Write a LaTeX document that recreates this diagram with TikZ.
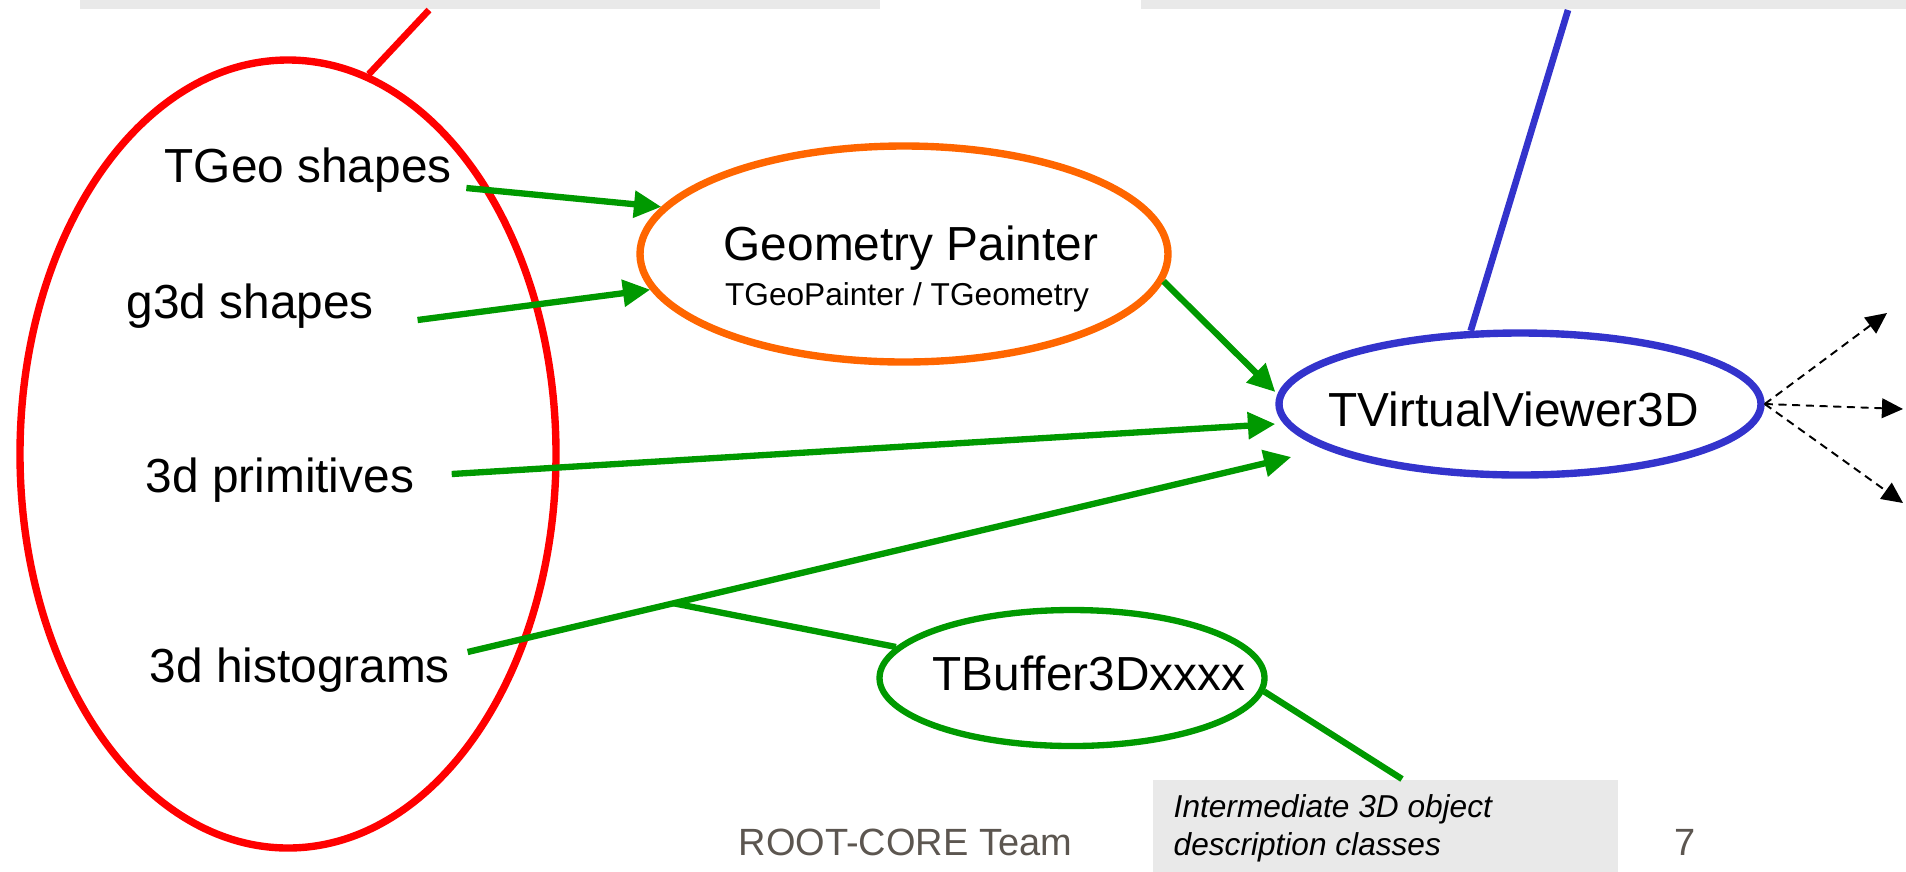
\documentclass[tikz,border=0pt]{standalone}
\usepackage{fontspec}
\setmainfont{Liberation Sans}
\usetikzlibrary{shapes.geometric,arrows.meta}

\definecolor{rosso}{RGB}{255,0,0}
\definecolor{arancio}{RGB}{255,102,0}
\definecolor{blu}{RGB}{51,51,204}
\definecolor{verde}{RGB}{0,153,0}
\definecolor{grigio}{RGB}{233,233,233}
\definecolor{piede}{RGB}{92,86,80}

\begin{document}
\begin{tikzpicture}[font=\fontsize{13.6}{16}\selectfont,
    >={Triangle[length=7.8pt,width=7.4pt]},
    flusso/.style={->, draw=verde, line width=1.8pt},
    ovale/.style={ellipse, inner sep=0pt, line width=2.1pt},
    testo/.style={anchor=base west, inner sep=0pt},
    riquadro/.style={fill=grigio, draw=none, inner sep=0pt},
    tratteggio/.style={-{Triangle[length=6pt,width=5.6pt]}, line width=0.55pt, dash pattern=on 2.3pt off 1.6pt}]

        \useasboundingbox (0,0) rectangle (19.06,-8.71);
        \clip (0,0) rectangle (19.06,-8.71);

        % ==========================================
        % 1. Riquadri grigi (in alto e nota in basso)
        % ==========================================
        \node[riquadro, minimum width=8.0cm, minimum height=1cm, anchor=south west] (boxL) at (0.79,-0.10) {};
        \node[riquadro, minimum width=8.0cm, minimum height=1cm, anchor=south west] (boxR) at (11.40,-0.10) {};
        \node[riquadro, minimum width=4.65cm, minimum height=1.2cm, anchor=north west] (nota) at (11.52,-7.79) {};

        % ==========================================
        % 2. Ovali
        % ==========================================
        \node[ovale, draw=rosso, minimum width=5.36cm, minimum height=7.88cm] (gruppo) at (2.88,-4.54) {};
        \node[ovale, draw=arancio, minimum width=5.28cm, minimum height=2.16cm] (geo) at (9.04,-2.54) {};
        \node[ovale, draw=blu, minimum width=4.82cm, minimum height=1.42cm] (viewer) at (15.20,-4.04) {};
        \node[ovale, draw=verde, line width=1.8pt, minimum width=3.85cm, minimum height=1.36cm] (buf) at (10.72,-6.78) {};

        % ==========================================
        % 3. Testi
        % ==========================================
        \node[testo] (tgeo) at (1.64,-1.82) {TGeo shapes};
        \node[testo] (g3d) at (1.26,-3.18) {g3d shapes};
        \node[testo] (prim) at (1.45,-4.92) {3d primitives};
        \node[testo] (hist) at (1.49,-6.82) {3d histograms};
        \node[anchor=base, inner sep=0pt] (geoT) at (9.11,-2.60) {Geometry Painter};
        \node[anchor=base, inner sep=0pt, font=\fontsize{9}{10}\selectfont] (geoS) at (9.07,-3.05) {TGeoPainter / TGeometry};
        \node[testo] (viewT) at (13.28,-4.26) {TVirtualViewer3D};
        \node[testo] (bufT) at (9.32,-6.90) {TBuffer3Dxxxx};
        \node[anchor=north west, inner sep=0pt, align=left, font=\fontsize{9}{10.8}\selectfont\itshape] (notaT) at (11.73,-7.94) {Intermediate 3D object\\description classes};

        % pie' di pagina
        \node[testo, font=\fontsize{10.8}{12}\selectfont, text=piede] (autori) at (7.38,-8.55) {ROOT-CORE Team};
        \node[testo, font=\fontsize{10.8}{12}\selectfont, text=piede] (pagina) at (16.74,-8.55) {7};

        % ==========================================
        % 4. Collegamenti
        % ==========================================
        \draw[flusso] ([xshift=0.14cm,yshift=-0.06cm]tgeo.base east) -- (geo.169);
        \draw[flusso] ([xshift=0.43cm,yshift=-0.02cm]g3d.base east) -- (geo.188);
        \draw[flusso] (geo.-6) -- ([yshift=0.12cm]viewer.west);
        \draw[flusso] ([xshift=0.37cm,yshift=0.18cm]prim.base east) -- ([yshift=-0.2cm]viewer.west);
        \draw[flusso] ([xshift=0.17cm,yshift=0.30cm]hist.base east) -- coordinate[pos=0.25] (nodo) ([xshift=0.16cm,yshift=-0.53cm]viewer.west);
        \draw[verde, line width=1.8pt] (nodo) -- (buf.170); % ramo verso TBuffer3D
        \draw[verde, line width=1.8pt] (buf.-4) -- ([xshift=2.50cm]nota.north west);
        \draw[rosso, line width=1.9pt] ([xshift=3.50cm]boxL.south west) -- (gruppo.78);
        \draw[blu, line width=1.9pt] ([xshift=4.28cm]boxR.south west) -- (viewer.124);

        % frecce tratteggiate in uscita
        \coordinate (d1) at (18.87,-3.13);
        \coordinate (d2) at (19.03,-4.09);
        \coordinate (d3) at (19.03,-5.03);
        \foreach \d in {d1,d2,d3}
            \draw[tratteggio] (viewer.east) -- (\d);

    \end{tikzpicture}
\end{document}
